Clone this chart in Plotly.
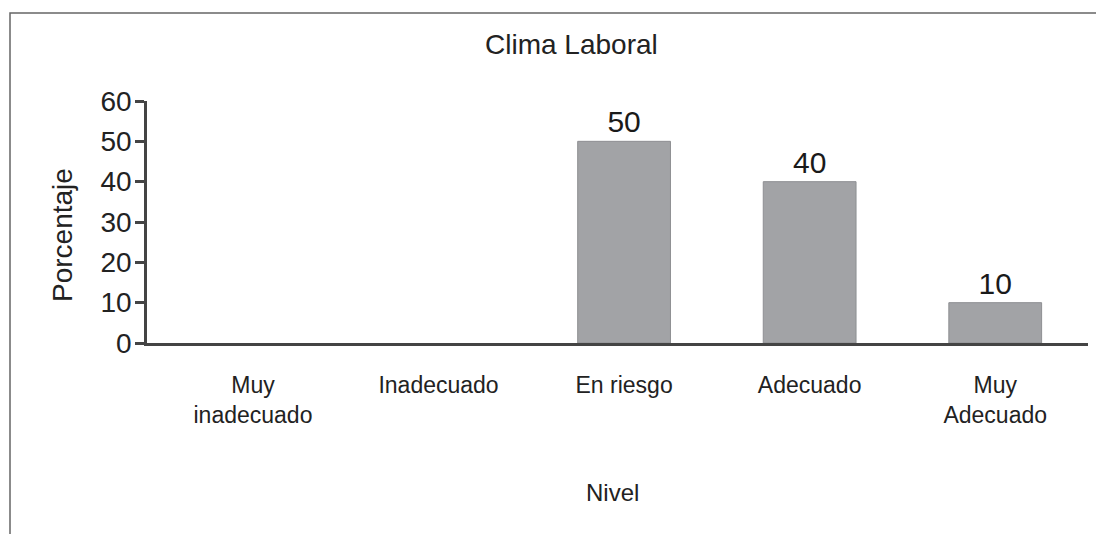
import plotly.graph_objects as go

categories = ["Muy<br>inadecuado", "Inadecuado", "En riesgo", "Adecuado", "Muy<br>Adecuado"]
values = [0, 0, 50, 40, 10]
labels = ["", "", "50", "40", "10"]
y_ticks = [0, 10, 20, 30, 40, 50, 60]

OFF = 8  # page body margin
W, H = 1096, 526
L, R, T, B = 139, 16, 93, 191
pw = W - L - R
ph = H - T - B

def px(x):
    return (x - OFF - L) / pw

def py(y):
    return (H - B - (y - OFF)) / ph

FONT = "Liberation Sans, Arial, sans-serif"

fig = go.Figure()
fig.add_trace(go.Bar(
    x=list(range(len(categories))),
    y=values,
    text=labels,
    textposition="outside",
    textfont=dict(size=30, color="#1a1a1a", family=FONT),
    width=0.5,
    marker=dict(color="#a2a3a6",
                line=dict(color="#8e8f92", width=[0 if v == 0 else 1 for v in values])),
    cliponaxis=False,
))

fig.update_layout(
    width=W, height=H,
    margin=dict(l=L, r=R, t=T, b=B),
    paper_bgcolor="white", plot_bgcolor="white",
    showlegend=False,
    font=dict(family=FONT, color="#222"),
    xaxis=dict(
        tickmode="array", tickvals=list(range(len(categories))), ticktext=categories,
        range=[-0.571, 4.5], showgrid=False, zeroline=False,
        showline=True, linecolor="#444", linewidth=2.5,
        ticks="", tickfont=dict(size=23, color="#222", family=FONT),
        ticklabelstandoff=20,
    ),
    yaxis=dict(
        tickmode="array", tickvals=y_ticks, range=[0, 60],
        showgrid=False, zeroline=False,
        showline=True, linecolor="#444", linewidth=2.5,
        ticks="outside", ticklen=9, tickwidth=2.5, tickcolor="#444",
        tickfont=dict(size=28, color="#222", family=FONT),
        ticklabelstandoff=-2,
    ),
    shapes=[dict(
        type="rect", xref="paper", yref="paper",
        x0=px(10), x1=px(1120), y0=py(560), y1=py(13),
        line=dict(color="#666", width=1.5), fillcolor="rgba(0,0,0,0)", layer="below",
    )],
    annotations=[
        dict(text="Clima Laboral", xref="paper", yref="paper", x=px(571), y=py(44),
             xanchor="center", yanchor="middle",
             showarrow=False, font=dict(size=28, color="#222", family=FONT)),
        dict(text="Nivel", xref="paper", yref="paper", x=px(612), y=py(492),
             xanchor="center", yanchor="middle",
             showarrow=False, font=dict(size=24, color="#222", family=FONT)),
        dict(text="Porcentaje", xref="paper", yref="paper", x=px(63), y=py(235),
             xanchor="center", yanchor="middle",
             textangle=-90, showarrow=False, font=dict(size=28, color="#222", family=FONT)),
    ],
)

fig.write_html("out.html")
